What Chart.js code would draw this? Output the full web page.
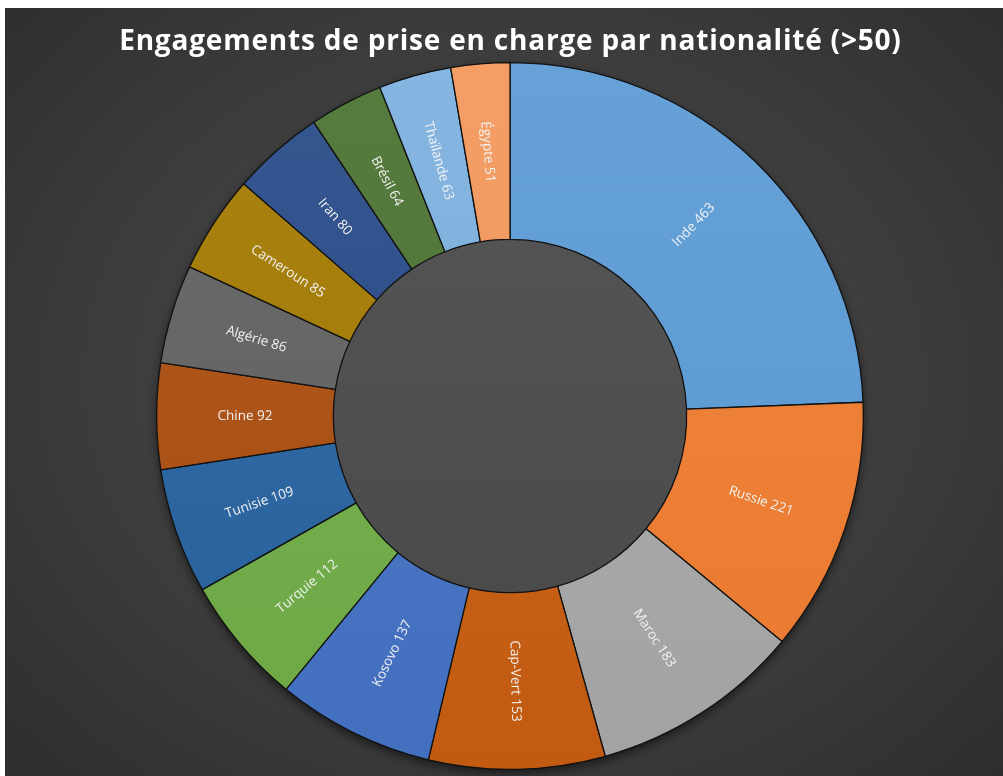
<!DOCTYPE html>
<html lang="fr">
<head>
<meta charset="utf-8">
<title>Engagements de prise en charge par nationalité</title>
<script src="https://cdn.jsdelivr.net/npm/chart.js@4.4.1/dist/chart.umd.min.js"></script>
<style>
    html, body { margin: 0; padding: 0; background: #ffffff; }
    .chart-container {
        position: absolute;
        left: 5px;
        top: 8px;
        width: 998px;
        height: 768px;
        background: radial-gradient(ellipse 75% 80% at 50% 48%, #4d4d4d 0%, #3c3c3c 55%, #2b2b2b 100%);
    }
</style>
</head>
<body>
<div class="chart-container">
    <canvas id="chart" width="998" height="768"></canvas>
</div>
<script>
const chartTitle = 'Engagements de prise en charge par nationalité (>50)';
// values, clockwise from the top
const countries = ['Inde', 'Russie', 'Maroc', 'Cap-Vert', 'Kosovo', 'Turquie', 'Tunisie',
    'Chine', 'Algérie', 'Cameroun', 'Iran', 'Brésil', 'Thaïlande', 'Égypte'];
const counts = [463, 221, 183, 153, 137, 112, 109, 92, 86, 85, 80, 64, 63, 51];
const sliceColors = ['#5b9bd5', '#f07d30', '#a8a8a8', '#c85e12', '#4472c4', '#70ad47', '#2763a0',
    '#ac4e10', '#616161', '#a37a00', '#274a88', '#4a7231', '#7cb0df', '#f3975a'];

function shade(hex, amt) {
    const n = parseInt(hex.slice(1), 16);
    let r = (n >> 16) & 255, g = (n >> 8) & 255, b = n & 255;
    const f = (c) => Math.round(amt >= 0 ? c + (255 - c) * amt : c * (1 + amt));
    return `rgb(${f(r)},${f(g)},${f(b)})`;
}

// light gradient top -> bottom, like the office style fill
function sliceFill(context) {
    const base = sliceColors[context.dataIndex];
    const area = context.chart.chartArea;
    if (!area) return base;
    const g = context.chart.ctx.createLinearGradient(0, area.top, 0, area.bottom);
    g.addColorStop(0, shade(base, 0.07));
    g.addColorStop(1, shade(base, -0.03));
    return g;
}

// title with spaced letters, centred over the ring
const spacedTitle = {
    id: 'spacedTitle',
    afterDraw(chart) {
        const ctx = chart.ctx;
        const arc = chart.getDatasetMeta(0).data[0];
        const cx = arc ? arc.x : chart.width / 2;
        const spacing = 0.8;
        ctx.save();
        ctx.font = 'bold 28px "Open Sans"';
        ctx.fillStyle = '#ffffff';
        ctx.textBaseline = 'alphabetic';
        ctx.textAlign = 'left';
        const chars = Array.from(chartTitle);
        const widths = chars.map(c => ctx.measureText(c).width);
        const total = widths.reduce((a, b) => a + b, 0) + spacing * (chars.length - 1);
        let x = cx - total / 2;
        chars.forEach((c, i) => {
            ctx.fillText(c, x, 42);
            x += widths[i] + spacing;
        });
        ctx.restore();
    }
};

// ring shadow and grey hole behind the slices
const ringBack = {
    id: 'ringBack',
    beforeDatasetsDraw(chart) {
        const arc = chart.getDatasetMeta(0).data[0];
        if (!arc) return;
        const { x, y, innerRadius, outerRadius } = arc.getProps(['x', 'y', 'innerRadius', 'outerRadius'], true);
        const ctx = chart.ctx;
        ctx.save();
        ctx.shadowColor = 'rgba(0,0,0,0.55)';
        ctx.shadowBlur = 10;
        ctx.shadowOffsetY = 4;
        ctx.beginPath();
        ctx.arc(x, y, outerRadius, 0, Math.PI * 2);
        ctx.fillStyle = '#222';
        ctx.fill();
        ctx.restore();

        ctx.save();
        const hg = ctx.createLinearGradient(0, y - innerRadius, 0, y + innerRadius);
        hg.addColorStop(0, '#535353');
        hg.addColorStop(1, '#4b4b4b');
        ctx.beginPath();
        ctx.arc(x, y, innerRadius, 0, Math.PI * 2);
        ctx.fillStyle = hg;
        ctx.fill();
        ctx.restore();
    }
};

// "Name value" written along the radius, in the middle of the ring
const sliceLabels = {
    id: 'sliceLabels',
    afterDatasetsDraw(chart) {
        const ctx = chart.ctx;
        const meta = chart.getDatasetMeta(0);
        ctx.save();
        ctx.font = '13.5px "Open Sans"';
        ctx.fillStyle = '#f2f2f2';
        ctx.textAlign = 'center';
        ctx.textBaseline = 'middle';
        meta.data.forEach((arc, i) => {
            const p = arc.getProps(['x', 'y', 'startAngle', 'endAngle', 'innerRadius', 'outerRadius'], true);
            const mid = (p.startAngle + p.endAngle) / 2;
            const r = (p.innerRadius + p.outerRadius) / 2;
            const lx = p.x + Math.cos(mid) * r;
            const ly = p.y + Math.sin(mid) * r;
            const rot = Math.cos(mid) >= 0 ? mid : mid + Math.PI;
            ctx.save();
            ctx.translate(lx, ly);
            ctx.rotate(rot);
            ctx.fillText(countries[i] + ' ' + counts[i], 0, 0);
            ctx.restore();
        });
        ctx.restore();
    }
};

const ctx = document.getElementById('chart').getContext('2d');
new Chart(ctx, {
    type: 'doughnut',
    data: {
        labels: countries,
        datasets: [{
            data: counts,
            backgroundColor: sliceFill,
            borderColor: '#111',
            borderWidth: 1.3
        }]
    },
    options: {
        responsive: false,
        animation: false,
        cutout: '50%',
        layout: {
            padding: { left: 151, right: 139, top: 54, bottom: 6 }
        },
        plugins: {
            legend: { display: false },
            tooltip: { enabled: false },
            title: { display: false }
        }
    },
    plugins: [ringBack, sliceLabels, spacedTitle]
});
</script>
</body>
</html>
